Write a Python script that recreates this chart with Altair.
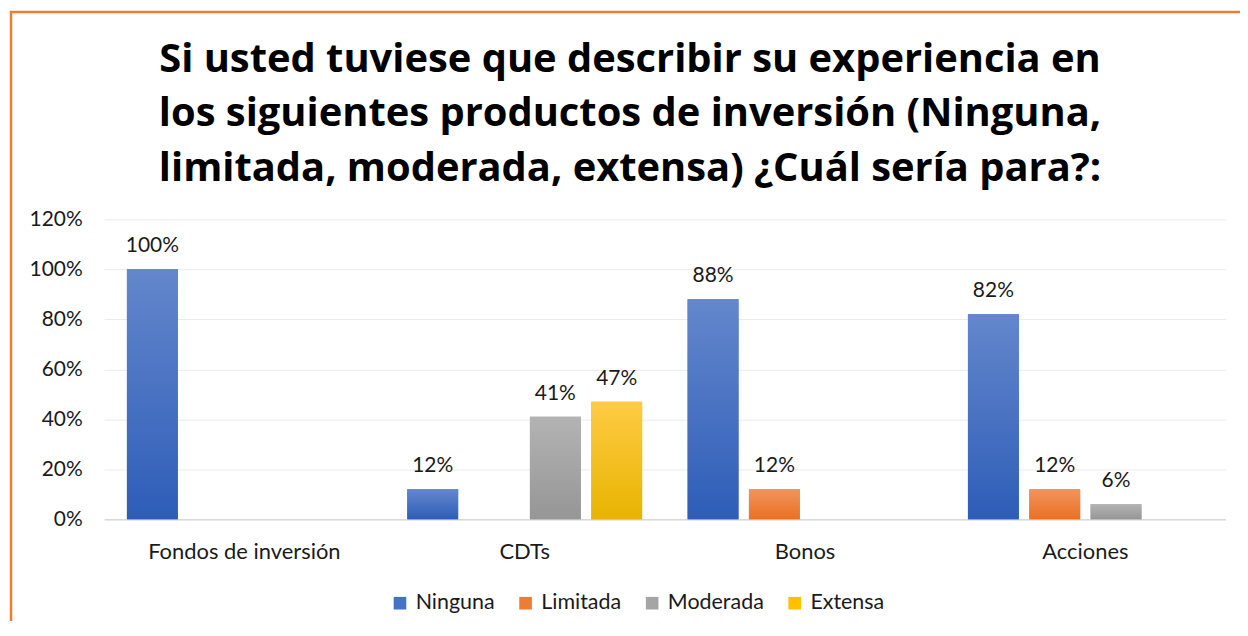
import altair as alt
import pandas as pd

categories = ["Fondos de inversión", "CDTs", "Bonos", "Acciones"]
series = ["Ninguna", "Limitada", "Moderada", "Extensa"]
ninguna = [1.00, 0.12, 0.88, 0.82]
limitada = [0.0, 0.0, 0.12, 0.12]
moderada = [0.0, 0.41, 0.0, 0.06]
extensa = [0.0, 0.47, 0.0, 0.0]

solid = ["#4472C4", "#ED7D31", "#A5A5A5", "#FFC000"]
grad_top = ["#6487CC", "#F0955F", "#B3B3B3", "#FFCB45"]
grad_bot = ["#2E5DB8", "#EC6F21", "#969696", "#E8B400"]

title_lines = [
    "Si usted tuviese que describir su experiencia en",
    "los siguientes productos de inversión (Ninguna,",
    "limitada, moderada, extensa) ¿Cuál sería para?:",
]

rows = []
for s, vals in zip(series, [ninguna, limitada, moderada, extensa]):
    for c, v in zip(categories, vals):
        rows.append({"Categoria": c, "Serie": s, "Valor": v})
df = pd.DataFrame(rows)

FONT = "Lato"

x_enc = alt.X(
    "Categoria:N",
    sort=categories,
    scale=alt.Scale(domain=categories, paddingInner=0.125, paddingOuter=0.0625),
    axis=alt.Axis(
        title=None, labelAngle=0, labelFont=FONT, labelFontSize=22,
        labelColor="#1a1a1a", labelPadding=22, labelLimit=0, ticks=False,
        domainColor="#D9D9D9", domainWidth=1.5, grid=False,
    ),
)
xo_enc = alt.XOffset(
    "Serie:N",
    sort=series,
    scale=alt.Scale(domain=series, paddingInner=0.17, paddingOuter=0.085),
)
y_enc = alt.Y(
    "Valor:Q",
    scale=alt.Scale(domain=[0, 1.2]),
    axis=alt.Axis(
        title=None, format=".0%", values=[0, 0.2, 0.4, 0.6, 0.8, 1.0, 1.2],
        labelFont=FONT, labelFontSize=21, labelColor="#1a1a1a",
        labelPadding=22, ticks=False, domain=False,
        gridColor="#EBEBEB", gridWidth=1,
    ),
)

base = alt.Chart(df)

bars = base.mark_bar().encode(
    x=x_enc, xOffset=xo_enc, y=y_enc,
    color=alt.Color(
        "Serie:N",
        sort=series,
        scale=alt.Scale(domain=series, range=solid),
        legend=alt.Legend(
            title=None, orient="none", direction="horizontal",
            legendX=286, legendY=374, symbolType="square", symbolSize=160,
            symbolStrokeWidth=0, labelFont=FONT, labelFontSize=21.5,
            labelColor="#1a1a1a", labelOffset=5, columnPadding=20,
        ),
    ),
)

layers = [bars]
for s, t, b in zip(series, grad_top, grad_bot):
    g = alt.LinearGradient(
        gradient="linear", x1=0, y1=0, x2=0, y2=1,
        stops=[alt.GradientStop(color=t, offset=0), alt.GradientStop(color=b, offset=1)],
    )
    layers.append(
        base.transform_filter(alt.datum.Serie == s)
        .mark_bar(color=g)
        .encode(x=x_enc, xOffset=xo_enc, y=y_enc)
    )

labels = (
    base.transform_filter(alt.datum.Valor > 0)
    .mark_text(font=FONT, fontSize=21, color="#1a1a1a", baseline="alphabetic", dy=-17)
    .encode(x=x_enc, xOffset=xo_enc, y=y_enc, text=alt.Text("Valor:Q", format=".0%"))
)
layers.append(labels)

border = alt.Chart(pd.DataFrame({"a": [0]})).mark_rect(
    filled=False, stroke="#ED7D31", strokeWidth=2.5
).encode(
    x=alt.value(-93.5), y=alt.value(-208), x2=alt.value(1400), y2=alt.value(900)
)
layers.append(border)

chart = (
    alt.layer(*layers)
    .properties(
        width=1125,
        height=301,
        padding={"left": 96.5, "top": 211, "right": 14.5, "bottom": 101},
        autosize=alt.AutoSizeParams(type="none"),
        title=alt.TitleParams(
            text=title_lines, font="Open Sans", fontSize=40, fontWeight="bold",
            color="#000000", lineHeight=55, anchor="middle", frame="group",
            dx=-35, offset=-179,
        ),
    )
    .configure_view(stroke=None)
)

chart.save("out.html", embed_options={"renderer": "svg", "actions": False})
